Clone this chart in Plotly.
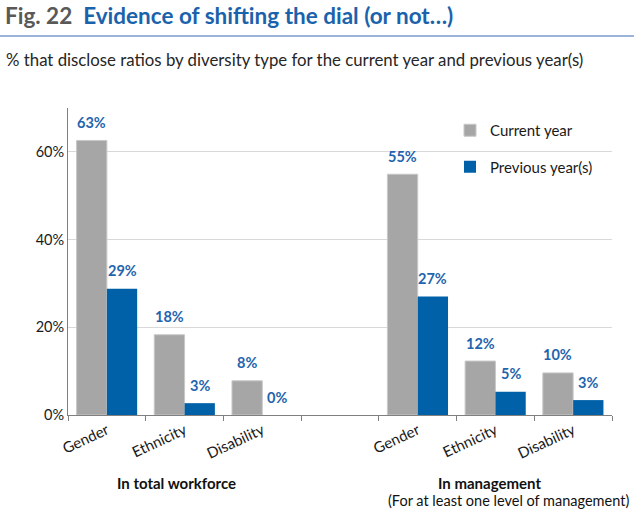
import plotly.graph_objects as go

# ---- data ----
category_ids = ["w_gender", "w_ethnicity", "w_disability", "gap", "m_gender", "m_ethnicity", "m_disability"]
tick_labels = ["Gender", "Ethnicity", "Disability", "", "Gender", "Ethnicity", "Disability"]
current_year = [62.6, 18.3, 7.8, None, 54.9, 12.3, 9.6]
previous_years = [28.8, 2.7, 0.0, None, 27.0, 5.3, 3.4]
series_names = ["Current year", "Previous year(s)"]
group_labels = ["In total workforce", "In management"]
group_sublabel = "(For at least one level of management)"
y_ticks = [0, 20, 40, 60]

# ---- layout constants (pixels) ----
W, H = 634, 515
ML, MR, MT, MB = 68, 22, 108, 100
PW, PH = W - ML - MR, H - MT - MB

def px_x(px):
    return (px - ML) / PW

def px_y(py):
    return (H - MB - py) / PH

FONT = "Lato"
GRAY = "#A6A6A6"
BLUE = "#0061A8"
LABEL_BLUE = "#1F64AE"

fig = go.Figure()
fig.add_trace(go.Bar(name=series_names[0], x=category_ids, y=current_year,
                     marker=dict(color=GRAY, line=dict(color="#C8C8C8", width=1)),
                     legendgroup="a", hoverinfo="skip"))
fig.add_trace(go.Bar(name=series_names[1], x=category_ids, y=previous_years,
                     marker=dict(color=BLUE, line=dict(width=0)),
                     legendgroup="b", hoverinfo="skip"))

annotations = []
half = PW / len(category_ids) * (1 - 0.22) / 4
for series, shift in ((current_year, -half), (previous_years, half)):
    for cid, v in zip(category_ids, series):
        if v is None:
            continue
        annotations.append(dict(x=cid, y=v, xref="x", yref="y", text=f"{round(v)}%",
                                showarrow=False, xshift=shift, yshift=18, yanchor="middle",
                                font=dict(family=FONT, size=14.5, color=LABEL_BLUE, weight="bold")))

annotations.append(dict(x=px_x(176), y=px_y(483), xref="paper", yref="paper",
                        text=f"<b>{group_labels[0]}</b>", showarrow=False,
                        xanchor="center", yanchor="middle",
                        font=dict(family=FONT, size=15, color="#111")))
annotations.append(dict(x=px_x(489), y=px_y(483), xref="paper", yref="paper",
                        text=f"<b>{group_labels[1]}</b>", showarrow=False,
                        xanchor="center", yanchor="middle",
                        font=dict(family=FONT, size=15, color="#111")))
annotations.append(dict(x=px_x(631), y=px_y(500), xref="paper", yref="paper",
                        text=group_sublabel, showarrow=False,
                        xanchor="right", yanchor="middle",
                        font=dict(family=FONT, size=14.5, color="#111")))
annotations.append(dict(x=px_x(4), y=px_y(60), xref="paper", yref="paper",
                        text="% that disclose ratios by diversity type for the current year and previous year(s)",
                        showarrow=False, xanchor="left", yanchor="middle",
                        font=dict(family=FONT, size=16.8, color="#262626")))

fig.update_layout(
    width=W, height=H,
    margin=dict(l=ML, r=MR, t=MT, b=MB),
    paper_bgcolor="white", plot_bgcolor="white",
    barmode="group", bargap=0.22, bargroupgap=0,
    font=dict(family=FONT, size=14.5, color="#1a1a1a"),
    title=dict(
        text="<span style='color:#595959'>Fig. 22</span>  <span style='color:#1A63AC'>Evidence of shifting the dial (or not…)</span>",
        x=5 / W, xanchor="left", xref="container",
        y=1 - 16 / H, yanchor="middle", yref="container",
        font=dict(family=FONT, size=22.5, weight="bold"),
    ),
    legend=dict(x=px_x(450), y=px_y(114), xanchor="left", yanchor="top",
                font=dict(family=FONT, size=15, color="#1a1a1a"),
                tracegroupgap=14, bgcolor="rgba(0,0,0,0)"),
    annotations=annotations,
    shapes=[dict(type="line", xref="paper", yref="paper",
                 x0=px_x(0), x1=px_x(W), y0=px_y(36), y1=px_y(36),
                 line=dict(color="#9BB3D8", width=2))],
    xaxis=dict(categoryorder="array", categoryarray=category_ids,
               tickvals=category_ids, ticktext=tick_labels,
               range=[-0.5, len(category_ids) - 0.5],
               tickangle=-25, tickson="boundaries", ticks="outside", ticklen=5,
               tickcolor="#808080", showline=True, linecolor="#808080", linewidth=1,
               showgrid=False, fixedrange=True, tickfont=dict(size=15)),
    yaxis=dict(range=[0, 70], tickvals=y_ticks, ticktext=[f"{t}%" for t in y_ticks],
               showline=True, linecolor="#808080", linewidth=1,
               gridcolor="#D9D9D9", zeroline=False, ticks="", fixedrange=True),
)

fig.write_html("out.html", config={"displayModeBar": False},
               post_script="document.body.style.margin='0';document.body.style.overflow='hidden';")
